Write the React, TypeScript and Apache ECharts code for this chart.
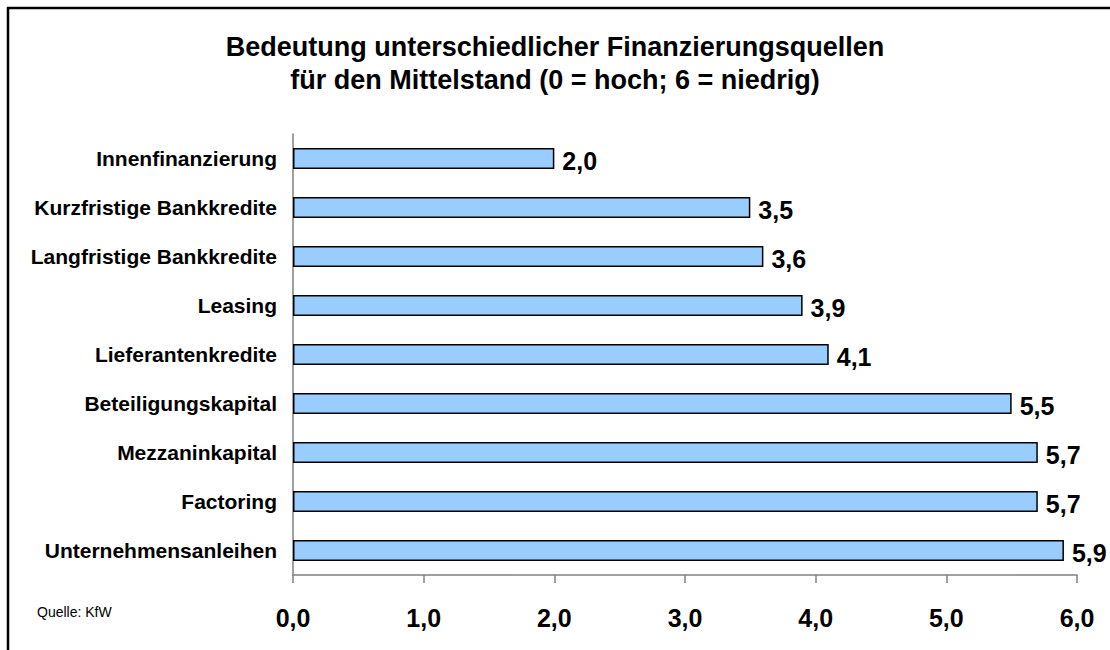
import React, { useEffect, useRef } from "react";
import * as echarts from "echarts";

const categories = [
  "Innenfinanzierung",
  "Kurzfristige Bankkredite",
  "Langfristige Bankkredite",
  "Leasing",
  "Lieferantenkredite",
  "Beteiligungskapital",
  "Mezzaninkapital",
  "Factoring",
  "Unternehmensanleihen",
];
const values = [2.0, 3.5, 3.6, 3.9, 4.1, 5.5, 5.7, 5.7, 5.9];
const titleLines = [
  "Bedeutung unterschiedlicher Finanzierungsquellen",
  "für den Mittelstand (0 = hoch; 6 = niedrig)",
];
const sourceText = "Quelle: KfW";

const FONT = "'Liberation Sans', Arial, Helvetica, sans-serif";
const fmt = (v: number) => v.toFixed(1).replace(".", ",");

export default function App() {
  const ref = useRef<HTMLDivElement>(null);
  useEffect(() => {
    document.body.style.margin = "0";
    if (!ref.current) return;
    const chart = echarts.init(ref.current, undefined, { renderer: "svg" });
    chart.setOption({
      animation: false,
      backgroundColor: "#ffffff",
      textStyle: { fontFamily: FONT },
      title: {
        text: titleLines.join("\n"),
        left: "center",
        top: 25,
        textStyle: {
          fontFamily: FONT,
          fontSize: 27,
          fontWeight: "bold",
          lineHeight: 33,
          color: "#000",
        },
      },
      grid: { left: 293, right: 33, top: 134, bottom: 75, containLabel: false },
      xAxis: {
        type: "value",
        min: 0,
        max: 6,
        interval: 1,
        axisLine: { show: true, lineStyle: { color: "#808080", width: 1.5 } },
        axisTick: { show: true, length: 8, lineStyle: { color: "#808080", width: 1.5 } },
        splitLine: { show: false },
        axisLabel: {
          formatter: (v: number) => fmt(v),
          fontFamily: FONT,
          fontSize: 25,
          fontWeight: "bold",
          color: "#000",
          margin: 30,
        },
      },
      yAxis: {
        type: "category",
        data: categories,
        inverse: true,
        axisLine: { show: true, lineStyle: { color: "#808080", width: 1.5 } },
        axisTick: { show: false },
        axisLabel: {
          fontFamily: FONT,
          fontSize: 21,
          fontWeight: "bold",
          color: "#000",
          margin: 16,
        },
      },
      series: [
        {
          type: "bar",
          data: values,
          barWidth: 21,
          itemStyle: { color: "#99CCFF", borderColor: "#000", borderWidth: 1.5 },
          label: {
            show: true,
            position: "right",
            distance: 8,
            offset: [0, 2],
            formatter: (p: any) => fmt(p.value),
            fontFamily: FONT,
            fontSize: 25,
            fontWeight: "bold",
            color: "#000",
          },
        },
      ],
      graphic: [
        { type: "line", shape: { x1: 8, y1: 7, x2: 8, y2: 650 }, style: { stroke: "#000", lineWidth: 2.5 } },
        { type: "line", shape: { x1: 7, y1: 8, x2: 1110, y2: 8 }, style: { stroke: "#000", lineWidth: 2.5 } },
        {
          type: "text",
          left: 37,
          top: 605,
          style: { text: sourceText, fontFamily: FONT, fontSize: 14, fill: "#000" },
        },
      ],
    });
    return () => chart.dispose();
  }, []);
  return <div ref={ref} style={{ width: 1110, height: 650 }} />;
}
